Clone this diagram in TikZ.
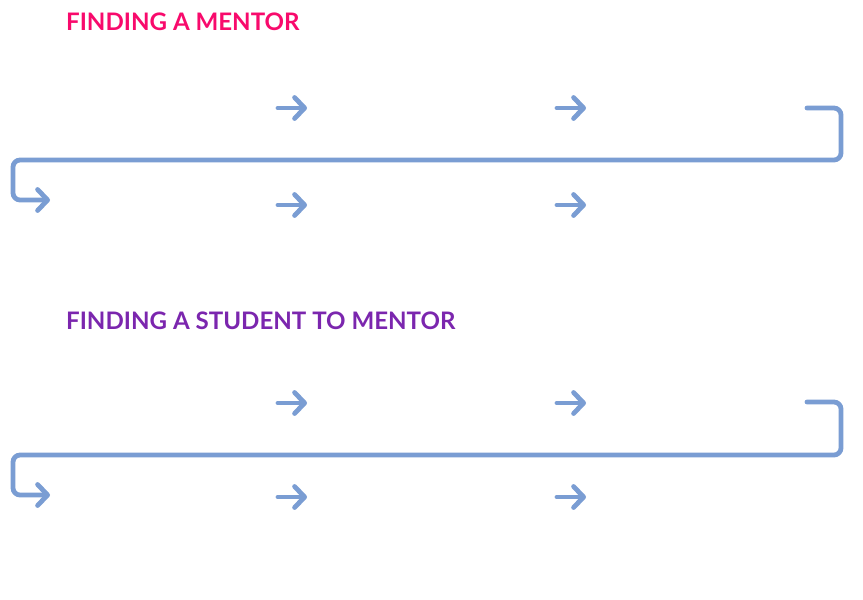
\documentclass[tikz,border=0pt]{standalone}
\usepackage{fontspec}
\setmainfont{Lato}
\usetikzlibrary{arrows.meta}
\definecolor{flowblue}{HTML}{7A9DD3}
\definecolor{titlepink}{HTML}{F80A6C}
\definecolor{titlepurple}{HTML}{7B26AE}
\tikzset{
  flow/.style={draw=flowblue, line width=4.8pt, line cap=round, line join=round, rounded corners=7pt,
    -{Straight Barb[length=10pt,width=21pt,round]}},
  heading/.style={anchor=base west, inner sep=0pt, font=\fontsize{24.1}{27}\selectfont\bfseries},
}
\begin{document}
\begin{tikzpicture}[x=1pt,y=-1pt]
\useasboundingbox (0,0) rectangle (863,600);
% Section 1
\node[heading, text=titlepink] (t1) at (66,30) {FINDING A MENTOR};
\coordinate (a1s) at (278,108); \coordinate (a1e) at (307,108);
\coordinate (a2s) at (557,108); \coordinate (a2e) at (586,108);
\coordinate (b1s) at (278,205); \coordinate (b1e) at (307,205);
\coordinate (b2s) at (557,205); \coordinate (b2e) at (586,205);
\coordinate (w1s) at (807,108); \coordinate (w1e) at (50,200);
\draw[flow] (a1s) -- (a1e);
\draw[flow] (a2s) -- (a2e);
\draw[flow] (b1s) -- (b1e);
\draw[flow] (b2s) -- (b2e);
\draw[flow] (w1s) -- (841,108) -- (841,160) -- (13,160) -- (13,200) -- (w1e);
% Section 2
\node[heading, text=titlepurple] (t2) at (66,329) {FINDING A STUDENT TO MENTOR};
\coordinate (c1s) at (278,403); \coordinate (c1e) at (307,403);
\coordinate (c2s) at (557,403); \coordinate (c2e) at (586,403);
\coordinate (d1s) at (278,497); \coordinate (d1e) at (307,497);
\coordinate (d2s) at (557,497); \coordinate (d2e) at (586,497);
\coordinate (w2s) at (807,402); \coordinate (w2e) at (50,495);
\draw[flow] (c1s) -- (c1e);
\draw[flow] (c2s) -- (c2e);
\draw[flow] (d1s) -- (d1e);
\draw[flow] (d2s) -- (d2e);
\draw[flow] (w2s) -- (841,402) -- (841,455) -- (13,455) -- (13,495) -- (w2e);
\end{tikzpicture}
\end{document}
